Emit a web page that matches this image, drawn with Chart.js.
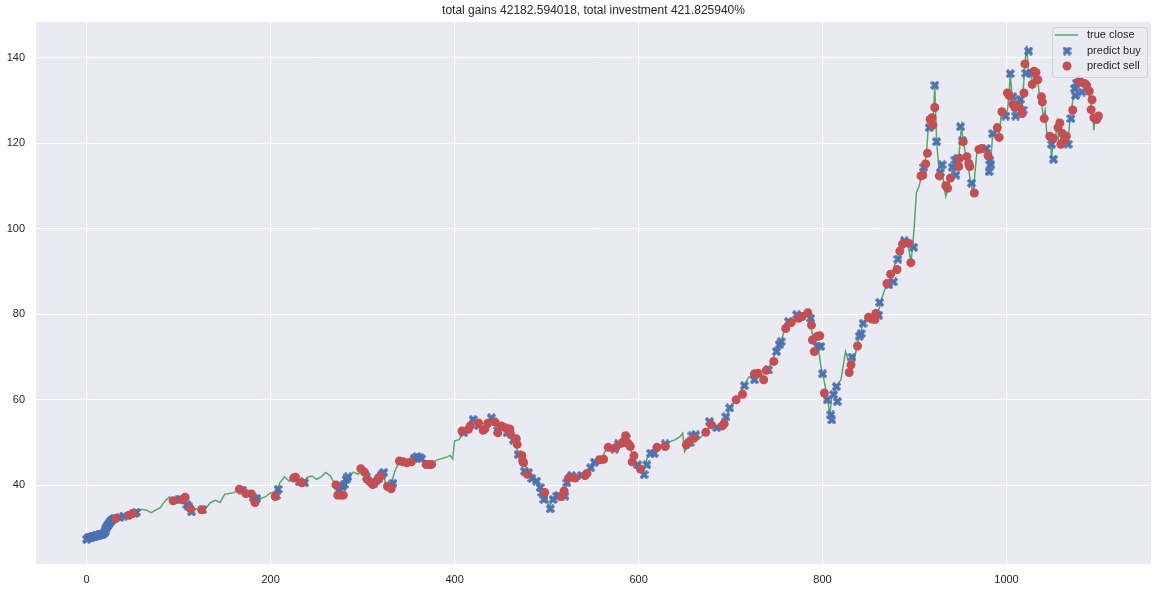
<!DOCTYPE html>
<html>
<head>
<meta charset="utf-8">
<script src="https://cdn.jsdelivr.net/npm/chart.js@4.4.1/dist/chart.umd.min.js"></script>
<style>
  html, body { margin: 0; padding: 0; background: #ffffff; }
  #wrap { width: 1158px; height: 591px; }
</style>
</head>
<body>
<div id="wrap"><canvas id="chart" width="1158" height="591"></canvas></div>
<script>
const chartTitle = "total gains 42182.594018, total investment 421.825940%";
const xTicks = [0, 200, 400, 600, 800, 1000];
const yTicks = [40, 60, 80, 100, 120, 140];

// true close
const closeDay = [
  0, 5, 10, 15, 20, 25, 30, 35, 40, 45, 50, 55, 60, 65, 70, 75, 80, 85, 90, 95,
  100, 105, 110, 115, 120, 125, 130, 135, 140, 145, 150, 155, 160, 165, 170, 175, 180, 185, 190, 195,
  200, 205, 210, 215, 220, 225, 230, 235, 240, 245, 250, 255, 260, 265, 270, 275, 280, 285, 290, 295,
  300, 305, 310, 315, 320, 323, 325, 330, 335, 340, 345, 350, 355, 360, 365, 370, 375, 380, 385, 390,
  395, 398, 400, 405, 410, 415, 420, 425, 430, 435, 440, 445, 450, 455, 460, 465, 470, 475, 480, 485,
  490, 495, 500, 503, 505, 510, 515, 520, 525, 530, 535, 540, 545, 550, 555, 560, 565, 570, 575, 580,
  585, 590, 595, 600, 605, 610, 615, 620, 625, 630, 635, 640, 645, 648, 650, 655, 660, 665, 670, 675,
  680, 685, 690, 695, 700, 705, 710, 715, 720, 725, 730, 735, 740, 745, 750, 755, 760, 765, 770, 775,
  780, 785, 790, 795, 798, 800, 805, 808, 810, 815, 820, 825, 830, 835, 840, 845, 850, 855, 860, 865,
  870, 875, 880, 885, 890, 893, 896, 898, 900, 902, 905, 908, 910, 913, 915, 918, 920, 922, 924, 926,
  928, 930, 932, 934, 936, 940, 944, 946, 948, 951, 953, 956, 958, 961, 964, 966, 968, 971, 974, 977,
  979, 981, 983, 985, 988, 990, 992, 994, 997, 999, 1001, 1003, 1004, 1006, 1008, 1010, 1012, 1014, 1016, 1018,
  1020, 1022, 1024, 1026, 1028, 1030, 1032, 1034, 1036, 1038, 1040, 1042, 1044, 1046, 1048, 1049, 1051, 1053, 1055, 1057,
  1059, 1061, 1063, 1065, 1067, 1069, 1071, 1073, 1075, 1077, 1079, 1081, 1083, 1085, 1087, 1089, 1091, 1093, 1095, 1096,
  1098, 1100, 1102
];
const closePrice = [
  27.4, 27.9, 28.2, 28.4, 29.3, 31.2, 32.3, 32.5, 32.8, 33.1, 33.4, 33.8, 34.4, 34.2, 33.6, 34.2, 34.8, 36.3, 37.3, 36.5,
  36.6, 37.1, 35.3, 34.0, 34.6, 34.3, 34.8, 36.0, 36.5, 36.0, 37.9, 38.1, 38.3, 38.9, 38.6, 38.1, 37.3, 36.7, 37.0, 37.4,
  38.3, 37.5, 40.6, 42.0, 41.0, 41.6, 41.2, 40.6, 41.9, 42.2, 41.4, 42.0, 43.0, 42.2, 40.1, 37.7, 39.7, 41.8, 43.1, 42.6,
  43.7, 41.8, 40.2, 41.0, 42.0, 43.0, 40.0, 39.5, 43.3, 45.7, 45.3, 45.5, 46.1, 46.9, 46.1, 44.9, 44.9, 45.9, 46.2, 46.5,
  47.0, 46.2, 50.4, 50.7, 52.7, 53.1, 55.4, 53.9, 52.9, 54.6, 55.8, 53.9, 53.9, 53.1, 52.3, 50.4, 47.2, 45.3, 43.3, 41.4,
  40.2, 38.3, 37.5, 34.6, 36.3, 37.1, 37.9, 38.7, 41.8, 41.8, 42.2, 43.0, 42.8, 45.0, 46.8, 46.1, 48.7, 48.7, 49.1, 50.0,
  51.6, 49.1, 46.0, 44.4, 42.9, 46.8, 47.5, 48.7, 49.5, 49.5, 50.3, 50.7, 51.4, 52.2, 47.9, 49.5, 51.4, 50.7, 51.8, 53.0,
  54.7, 53.8, 54.2, 56.0, 58.3, 59.6, 61.2, 63.5, 65.3, 65.8, 66.1, 65.6, 67.0, 69.0, 71.7, 73.6, 77.5, 78.3, 78.7, 79.5,
  79.9, 80.2, 74.0, 72.9, 68.2, 66.2, 60.8, 56.5, 60.8, 63.1, 64.7, 71.3, 67.8, 70.1, 74.8, 78.3, 79.2, 79.1, 80.2, 84.1,
  87.2, 88.8, 92.7, 95.0, 96.6, 96.5, 92.1, 96.0, 101.4, 108.4, 110.0, 112.8, 114.0, 117.7, 123.9, 125.8, 124.3, 133.6, 120.8, 115.3,
  112.2, 114.5, 109.9, 107.6, 109.1, 112.5, 116.5, 114.6, 116.5, 123.9, 120.4, 116.9, 115.3, 110.7, 108.4, 113.8, 118.4, 118.8, 118.8, 119.2,
  117.3, 113.4, 116.1, 122.3, 122.3, 123.5, 121.6, 126.2, 127.8, 126.6, 127.8, 132.0, 136.3, 131.2, 128.4, 126.8, 128.9, 130.5, 128.1, 132.0,
  138.6, 142.9, 136.3, 137.1, 133.6, 136.7, 135.9, 134.7, 130.9, 130.1, 125.8, 127.8, 121.6, 120.8, 120.0, 116.3, 121.6, 120.8, 124.7, 120.0,
  119.6, 122.3, 120.8, 121.6, 120.0, 125.8, 127.8, 132.8, 134.0, 132.4, 134.7, 134.0, 133.6, 134.0, 132.8, 132.0, 130.1, 127.8, 123.1, 125.8,
  126.6, 126.2, 127.0
];

// predict buy markers
const buyDay = [
  0, 1, 2, 3, 4, 5, 6, 7, 8, 9, 10, 11, 12, 13, 14, 15, 16, 17, 18, 19,
  20, 21, 22, 23, 24, 25, 26, 27, 28, 30, 36, 40, 52, 54,
  100, 102, 109, 111, 114, 126, 169, 181, 185, 206, 208, 231, 237,
  274, 278, 280, 282, 284, 304, 312, 317, 321, 323, 329, 333,
  356, 359, 362, 364, 371,
  410, 420, 426, 440, 447, 457, 464, 469, 476, 480, 484, 489, 493, 495, 497, 504, 507, 511, 513, 520, 522, 527, 538, 548,
  552, 574, 578, 585, 587, 599, 606, 609, 613, 617, 629, 656, 658, 662, 677, 685, 695, 699, 715, 726, 741, 750, 753, 755,
  763, 772, 787, 794, 798, 800, 805, 809, 810, 812, 815, 816,
  832, 840, 842, 844, 861, 862, 872, 877, 882, 889, 899,
  910, 916, 922, 924, 928, 930, 941, 944, 945, 947, 950, 952, 962, 978, 981, 982, 983, 985, 999,
  1004, 1007, 1010, 1015, 1018, 1021, 1024, 1027, 1049, 1051, 1067, 1070, 1074, 1075, 1076, 1082
];
const buyPrice = [
  27.4, 27.5, 27.7, 27.8, 27.9, 27.9, 28.0, 28.0, 28.1, 28.1, 28.2, 28.2, 28.3, 28.3, 28.4, 28.4, 28.5, 28.6, 28.7, 28.9,
  29.3, 29.8, 30.2, 30.6, 30.9, 31.2, 31.5, 31.8, 32.0, 32.3, 32.5, 32.8, 33.5, 33.7,
  36.6, 36.7, 35.5, 35.0, 33.8, 34.3, 38.9, 37.1, 36.9, 37.6, 39.1, 40.8, 40.6,
  38.7, 39.7, 40.2, 41.4, 42.0, 42.0, 40.4, 41.5, 42.5, 43.0, 39.7, 40.5,
  46.3, 46.7, 46.5, 46.2, 44.9,
  52.3, 55.4, 54.0, 55.8, 52.8, 52.3, 50.6, 47.2, 43.3, 43.0, 41.6, 41.0, 39.5, 38.3, 36.7, 34.5, 36.7, 37.5, 37.6, 37.5, 40.6, 42.3, 42.3, 44.1,
  45.4, 48.5, 49.7, 50.3, 51.0, 44.8, 42.5, 44.8, 47.5, 47.5, 49.7, 50.0, 51.6, 51.8, 54.9, 53.5, 56.0, 58.1, 63.3, 64.7, 67.0, 71.3, 72.9, 73.6,
  78.3, 79.9, 79.1, 72.5, 72.5, 66.1, 60.0, 56.5, 55.3, 61.2, 63.1, 59.6,
  70.0, 74.9, 75.5, 77.9, 79.8, 82.8, 86.9, 87.6, 92.9, 97.2, 95.7,
  114.4, 123.7, 133.6, 120.4, 113.2, 115.0, 114.4, 116.1, 112.6, 116.5, 123.9, 120.6, 110.7, 118.8, 113.4, 116.1, 115.0, 122.3, 126.4,
  136.3, 130.9, 126.4, 130.3, 127.8, 136.4, 141.6, 136.4, 119.8, 116.3, 119.8, 125.8, 132.8, 131.2, 134.1, 132.0
];

// predict sell markers
const sellDay = [
  32, 46, 50, 94, 104, 107, 113, 125, 166, 173, 179, 183, 205, 225, 227, 234,
  271, 273, 276, 279, 298, 302, 305, 308, 311, 315, 319, 327, 331,
  340, 344, 348, 353, 369, 372, 375,
  408, 415, 417, 426, 431, 433, 436, 444, 447, 451, 455, 460, 461, 467, 468, 473, 474, 475, 479, 498, 516, 519, 524, 531, 542, 544,
  558, 562, 567, 575, 582, 586, 589, 591, 593, 595, 602, 620, 629, 652, 654, 660, 673, 679, 691, 693, 706, 713, 726, 730,
  736, 739, 747, 760, 766, 774, 778, 784, 788, 789, 791, 794, 797, 802,
  829, 831, 838, 850, 854, 857, 858, 870, 874, 881, 884, 887, 894, 896,
  907, 909, 912, 914, 917, 919, 920, 922, 927, 934, 936, 939, 948, 949, 953, 957, 959, 960, 965, 970, 973, 980, 990, 992, 995,
  1001, 1003, 1007, 1009, 1014, 1017, 1019, 1020, 1028, 1030, 1032, 1034, 1038, 1039, 1041, 1047, 1051, 1056, 1058, 1059,
  1061, 1063, 1065, 1072, 1079, 1081, 1085, 1087, 1090, 1092, 1093, 1095, 1098, 1100
];
const sellPrice = [
  32.3, 33.0, 33.4, 36.4, 36.6, 37.2, 34.5, 34.3, 39.1, 38.1, 38.0, 36.0, 37.4, 41.7, 41.9, 40.6,
  40.1, 37.7, 37.7, 37.7, 43.9, 43.1, 41.4, 40.8, 40.2, 41.0, 42.0, 39.8, 39.2,
  45.7, 45.5, 45.3, 45.5, 44.9, 44.9, 44.9,
  52.7, 53.1, 53.9, 54.6, 52.9, 53.2, 54.5, 54.8, 52.3, 53.9, 53.5, 53.2, 51.9, 50.9, 49.6, 47.0, 45.7, 45.3, 42.6, 38.3, 37.4, 38.7, 41.7, 41.7, 42.3, 42.8,
  46.0, 46.1, 48.9, 48.8, 49.9, 51.6, 49.7, 49.1, 45.5, 46.9, 43.8, 48.9, 49.1, 49.5, 50.0, 51.0, 52.4, 54.2, 53.9, 54.4, 60.0, 61.3, 66.1, 66.2,
  64.7, 66.9, 69.0, 76.7, 78.1, 79.1, 79.5, 80.4, 77.5, 74.0, 71.3, 74.8, 75.0, 61.6,
  66.4, 68.2, 72.6, 79.3, 78.9, 78.8, 80.2, 87.2, 89.4, 90.5, 94.8, 96.4, 96.6, 92.1,
  112.4, 112.6, 115.2, 117.7, 125.6, 126.0, 124.3, 128.4, 112.4, 110.1, 109.5, 111.9, 114.6, 116.5, 120.4, 116.9, 115.3, 114.6, 108.4, 118.6, 118.8, 117.1, 123.7, 121.4, 127.4,
  131.8, 131.2, 129.1, 128.4, 128.5, 127.0, 131.8, 138.6, 133.8, 136.9, 136.6, 134.9, 130.9, 129.7, 125.8, 121.7, 121.2, 123.7, 124.8, 119.8,
  122.3, 120.8, 121.7, 127.8, 134.7, 134.3, 134.0, 133.6, 132.2, 127.9, 130.2, 126.0, 125.6, 126.4
];

const GREEN = "#55A868";
const BLUE = "#4C72B0";
const RED = "#C44E52";
const TEXT = "#262626";
const FONT = "'Liberation Sans', Arial, 'DejaVu Sans', sans-serif";

function toPoints(xs, ys) {
  return xs.map((x, i) => ({ x, y: ys[i] }));
}

// filled "X" marker like matplotlib's
function makeXMarker(size, color) {
  const c = document.createElement("canvas");
  c.width = size;
  c.height = size;
  const ctx = c.getContext("2d");
  ctx.strokeStyle = color;
  ctx.lineWidth = 3.4;
  ctx.lineCap = "butt";
  ctx.beginPath();
  ctx.moveTo(1, 1);
  ctx.lineTo(size - 1, size - 1);
  ctx.moveTo(size - 1, 1);
  ctx.lineTo(1, size - 1);
  ctx.stroke();
  return c;
}
const xMarker = makeXMarker(9, BLUE);

const titlePlugin = {
  id: "mplTitle",
  afterDraw(chart) {
    const { ctx, chartArea } = chart;
    ctx.save();
    ctx.fillStyle = TEXT;
    ctx.font = "12px " + FONT;
    ctx.textAlign = "center";
    ctx.textBaseline = "middle";
    ctx.fillText(chartTitle, (chartArea.left + chartArea.right) / 2, 11);
    ctx.restore();
  },
};

const legendPlugin = {
  id: "mplLegend",
  afterDatasetsDraw(chart) {
    const { ctx, chartArea } = chart;
    const right = chartArea.right - 4;
    const left = right - 95;
    const top = chartArea.top + 5;
    const h = 50;
    ctx.save();
    ctx.globalAlpha = 0.8;
    ctx.fillStyle = "#EAEAF2";
    ctx.strokeStyle = "#CCCCCC";
    ctx.lineWidth = 1;
    ctx.beginPath();
    ctx.roundRect(left + 0.5, top + 0.5, 95, h, 3);
    ctx.fill();
    ctx.stroke();
    ctx.globalAlpha = 1;
    const rows = chart.data.datasets.map((d) => d.label);
    const rowY = [top + 8, top + 24, top + 39];
    const mx = left + 15;
    ctx.strokeStyle = GREEN;
    ctx.lineWidth = 1.5;
    ctx.beginPath();
    ctx.moveTo(left + 3, rowY[0]);
    ctx.lineTo(left + 26, rowY[0]);
    ctx.stroke();
    ctx.drawImage(xMarker, mx - 4.5, rowY[1] - 4.5);
    ctx.fillStyle = RED;
    ctx.beginPath();
    ctx.arc(mx, rowY[2], 4.5, 0, Math.PI * 2);
    ctx.fill();
    ctx.fillStyle = TEXT;
    ctx.font = "11px " + FONT;
    ctx.textAlign = "left";
    ctx.textBaseline = "middle";
    rows.forEach((label, i) => ctx.fillText(label, left + 35, rowY[i]));
    ctx.restore();
  },
};

new Chart(document.getElementById("chart"), {
  type: "line",
  data: {
    datasets: [
      {
        label: "true close",
        data: toPoints(closeDay, closePrice),
        borderColor: GREEN,
        borderWidth: 1.5,
        pointRadius: 0,
        tension: 0,
        order: 3,
      },
      {
        type: "scatter",
        label: "predict buy",
        data: toPoints(buyDay, buyPrice),
        pointStyle: xMarker,
        pointRadius: 4.5,
        backgroundColor: BLUE,
        borderColor: BLUE,
        showLine: false,
        order: 2,
      },
      {
        type: "scatter",
        label: "predict sell",
        data: toPoints(sellDay, sellPrice),
        pointStyle: "circle",
        pointRadius: 4.5,
        borderWidth: 0,
        backgroundColor: RED,
        borderColor: RED,
        showLine: false,
        order: 1,
      },
    ],
  },
  options: {
    responsive: false,
    animation: false,
    devicePixelRatio: 1,
    layout: { padding: { top: 22, right: 7, left: 0, bottom: 0 } },
    plugins: {
      legend: { display: false },
      tooltip: { enabled: false },
      title: { display: false },
    },
    scales: {
      x: {
        type: "linear",
        min: -55.1,
        max: 1157.1,
        afterBuildTicks: (s) => { s.ticks = xTicks.map((v) => ({ value: v })); },
        afterFit: (s) => { s.height = 27; },
        grid: { color: "#FFFFFF", lineWidth: 1, drawTicks: false },
        border: { display: false },
        ticks: { color: TEXT, font: { size: 11, family: FONT }, padding: 9, maxRotation: 0, callback: (v) => String(v) },
      },
      y: {
        type: "linear",
        min: 21.6,
        max: 148.4,
        afterBuildTicks: (s) => { s.ticks = yTicks.map((v) => ({ value: v })); },
        afterFit: (s) => { s.width = 36; },
        grid: { color: "#FFFFFF", lineWidth: 1, drawTicks: false },
        border: { display: false },
        ticks: { color: TEXT, font: { size: 11, family: FONT }, padding: 11, callback: (v) => String(v) },
      },
    },
  },
  plugins: [
    {
      id: "plotBg",
      beforeDraw(chart) {
        const { ctx, chartArea: a } = chart;
        ctx.save();
        ctx.fillStyle = "#EAEAF2";
        ctx.fillRect(a.left, a.top, a.right - a.left, a.bottom - a.top);
        ctx.restore();
      },
    },
    titlePlugin,
    legendPlugin,
  ],
});
</script>
</body>
</html>
